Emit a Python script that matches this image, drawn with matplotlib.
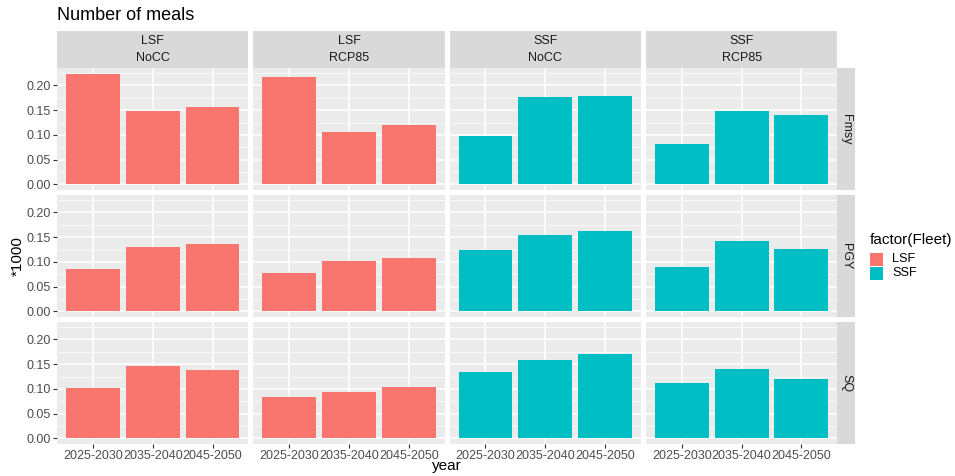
import numpy as np
import matplotlib
matplotlib.use('Agg')
import matplotlib.pyplot as plt
from matplotlib.patches import Rectangle

plt.rcParams['font.family'] = ['Liberation Sans', 'DejaVu Sans']

years = ['2025-2030', '2035-2040', '2045-2050']
fleets = ['LSF', 'LSF', 'SSF', 'SSF']
scenarios = ['NoCC', 'RCP85', 'NoCC', 'RCP85']
strategies = ['Fmsy', 'PGY', 'SQ']

# one list of three periods per fleet/scenario column
fmsy = [[0.224, 0.149, 0.156], [0.218, 0.105, 0.121],
        [0.098, 0.177, 0.178], [0.081, 0.149, 0.140]]
pgy = [[0.086, 0.131, 0.136], [0.077, 0.101, 0.108],
       [0.125, 0.154, 0.162], [0.089, 0.142, 0.126]]
sq = [[0.101, 0.147, 0.139], [0.083, 0.093, 0.103],
      [0.135, 0.159, 0.171], [0.113, 0.141, 0.120]]

fleet_colors = {'LSF': '#F8766D', 'SSF': '#00BFC4'}

W, H = 955, 476
fig = plt.figure(figsize=(W / 100, H / 100), dpi=100)


def box(x0, y0, x1, y1):
    return [x0 / W, 1 - y1 / H, (x1 - x0) / W, (y1 - y0) / H]


col_x = [57, 253.3, 449.6, 645.9]
col_w = 191.4
row_y = [68, 195, 322]
row_h = 122
top_strip = (31, 68)
right_strip = (837, 855)

data = [fmsy, pgy, sq]
ymax = max(max(max(v) for v in d) for d in data)
pad = ymax * 0.05

for r, (name, values) in enumerate(zip(strategies, data)):
    for c in range(4):
        ax = fig.add_axes(box(col_x[c], row_y[r], col_x[c] + col_w, row_y[r] + row_h))
        ax.set_facecolor('#EBEBEB')
        ax.bar(range(1, 4), values[c], width=0.9, color=fleet_colors[fleets[c]], zorder=3)
        ax.set_xlim(0.4, 3.6)
        ax.set_ylim(-pad, ymax + pad)
        ax.set_xticks(range(1, 4))
        ax.set_yticks([0, 0.05, 0.10, 0.15, 0.20])
        ax.set_yticks(np.arange(0.025, 0.23, 0.05), minor=True)
        ax.grid(which='major', color='white', linewidth=1.1, zorder=0)
        ax.grid(which='minor', axis='y', color='white', linewidth=0.5, zorder=0)
        ax.tick_params(which='minor', length=0)
        ax.tick_params(which='major', length=3, width=0.8, color='#333333',
                       labelcolor='#4D4D4D', labelsize=9, pad=1.5)
        for s in ax.spines.values():
            s.set_visible(False)
        if c == 0:
            ax.set_yticklabels(['0.00', '0.05', '0.10', '0.15', '0.20'])
        else:
            ax.tick_params(axis='y', length=0, labelleft=False)
        if r == 2:
            ax.set_xticklabels(years)
        else:
            ax.tick_params(axis='x', length=0, labelbottom=False)

        if r == 0:
            sx = fig.add_axes(box(col_x[c], top_strip[0], col_x[c] + col_w, top_strip[1]))
            sx.set_facecolor('#D9D9D9')
            sx.set_xticks([]); sx.set_yticks([])
            for s in sx.spines.values():
                s.set_visible(False)
            sx.text(0.5, 0.73, fleets[c], ha='center', va='center', fontsize=9,
                    color='#1A1A1A', transform=sx.transAxes)
            sx.text(0.5, 0.27, scenarios[c], ha='center', va='center', fontsize=9,
                    color='#1A1A1A', transform=sx.transAxes)

    rx = fig.add_axes(box(right_strip[0], row_y[r], right_strip[1], row_y[r] + row_h))
    rx.set_facecolor('#D9D9D9')
    rx.set_xticks([]); rx.set_yticks([])
    for s in rx.spines.values():
        s.set_visible(False)
    rx.text(0.5, 0.5, name, ha='center', va='center', rotation=-90, fontsize=9,
            color='#1A1A1A', transform=rx.transAxes)

fig.text(57 / W, 1 - 16 / H, 'Number of meals', fontsize=13, ha='left', va='center')
fig.text(18 / W, 1 - 256 / H, '*1000', fontsize=11, rotation=90, ha='center', va='center')
fig.text(447 / W, 1 - 466 / H, 'year', fontsize=11, ha='center', va='center')

# legend
fig.text(870 / W, 1 - 240 / H, 'factor(Fleet)', fontsize=11, ha='left', va='center')
for i, fl in enumerate(['LSF', 'SSF']):
    y0 = 253 + i * 14
    fig.patches.append(Rectangle((870 / W, 1 - (y0 + 13) / H), 13 / W, 13 / H,
                                 facecolor=fleet_colors[fl], transform=fig.transFigure))
    fig.text(892 / W, 1 - (y0 + 6.5) / H, fl, fontsize=9.2, ha='left', va='center')

plt.savefig('out.png', dpi=100)
